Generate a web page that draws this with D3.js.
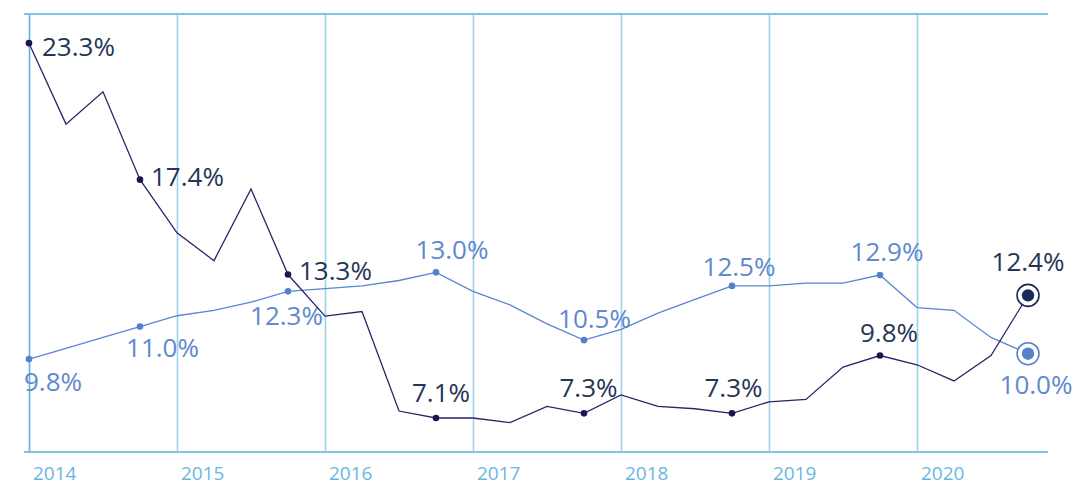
<!DOCTYPE html>
<html>
<head>
<meta charset="utf-8">
<script src="https://cdn.jsdelivr.net/npm/d3@7"></script>
<style>
  html, body { margin: 0; padding: 0; background: #ffffff; }
  svg { display: block; }
  text { font-family: "Open Sans", "Noto Sans", sans-serif; }
</style>
</head>
<body>
<svg id="chart" width="1090" height="490"></svg>
<script>
// ---- data ----
const years = [2014, 2015, 2016, 2017, 2018, 2019, 2020];
const quartersPerYear = 4;
// quarterly series (28 quarters starting at 2014)
const seriesDark = [23.3, 19.8, 21.2, 17.4, 15.1, 13.9, 17.0, 13.3,
                    11.5, 11.7, 7.4, 7.1, 7.1, 6.9, 7.6, 7.3,
                    8.1, 7.6, 7.5, 7.3, 7.8, 7.9, 9.3, 9.8,
                    9.4, 8.7, 9.8, 12.4];
const seriesLight = [9.8, 10.2, 10.6, 11.0, 11.4, 11.6, 11.9, 12.3,
                     12.4, 12.5, 12.7, 13.0, 12.3, 11.8, 11.1, 10.5,
                     10.9, 11.5, 12.0, 12.5, 12.5, 12.6, 12.6, 12.9,
                     11.7, 11.6, 10.6, 10.0];
const labeledDark = [0, 3, 7, 11, 15, 19, 23, 27];
const labeledLight = [0, 3, 7, 11, 15, 19, 23, 27];

// ---- layout / style (not data) ----
const plotLeft = 29, plotRight = 1028, plotTop = 14, plotBottom = 452, lineLeft = 24, lineRight = 1048;
const darkLabelPlace = [
  {dx: 13, dy: 3, a: "start"}, {dx: 11, dy: -3.5, a: "start"}, {dx: 11, dy: -3.5, a: "start"},
  {dx: 5, dy: -25, a: "middle"}, {dx: 4.5, dy: -26, a: "middle"}, {dx: 1.5, dy: -26, a: "middle"},
  {dx: 9, dy: -22.5, a: "middle"}, {dx: 0, dy: -34, a: "middle"}
];
const lightLabelPlace = [
  {dx: -5, dy: 23, a: "start"}, {dx: 22.5, dy: 21.5, a: "middle"}, {dx: -1.5, dy: 24, a: "middle"},
  {dx: 16, dy: -23, a: "middle"}, {dx: 10.5, dy: -22, a: "middle"}, {dx: 7, dy: -19, a: "middle"},
  {dx: 7, dy: -23, a: "middle"}, {dx: 8, dy: 31, a: "middle"}
];
const C = {
  grid: "#9dd2ea", frame: "#7ec4e4", yaxis: "#5fb2e0", year: "#6ab6df",
  dark: "#2b2568", darkDot: "#1a1553", darkEnd: "#1b2a57", darkText: "#253556",
  light: "#5a86d0", lightDot: "#5480cc", lightText: "#6089cf"
};

const svg = d3.select("#chart");
const x = d3.scaleLinear().domain([years[0], years[0] + (seriesDark.length - 1) / quartersPerYear]).range([plotLeft, plotRight]);
const yDark = d3.scaleLinear().domain([5.63, 24.56]).range([plotBottom, plotTop]);
const yLight = d3.scaleLinear().domain([6.374, 22.53]).range([plotBottom, plotTop]);
const t = i => years[0] + i / quartersPerYear;

// vertical year gridlines
const xAxis = d3.axisBottom(x).tickValues(years).tickSize(-(plotBottom - plotTop)).tickFormat(d3.format("d"));
const gx = svg.append("g").attr("transform", `translate(0,${plotBottom})`).call(xAxis);
gx.select(".domain").remove();
gx.selectAll(".tick line").attr("stroke", (d, i) => i === 0 ? C.yaxis : C.grid).attr("stroke-width", 1.6);
gx.selectAll(".tick text")
  .attr("text-anchor", "start").attr("x", 3.5).attr("y", 28).attr("dy", 0)
  .attr("fill", C.year).style("font-size", "19px").style("font-family", "'Open Sans', sans-serif");

// frame top and bottom
svg.append("line").attr("x1", lineLeft).attr("x2", lineRight).attr("y1", plotTop).attr("y2", plotTop)
  .attr("stroke", C.frame).attr("stroke-width", 1.8);
svg.append("line").attr("x1", lineLeft).attr("x2", lineRight).attr("y1", plotBottom).attr("y2", plotBottom)
  .attr("stroke", C.frame).attr("stroke-width", 1.8);

function drawSeries(vals, y, color, dotColor, labeled, place, textColor, endFill) {
  const line = d3.line().x((d, i) => x(t(i))).y(d => y(d));
  svg.append("path").datum(vals).attr("d", line).attr("fill", "none")
    .attr("stroke", color).attr("stroke-width", 1.3).attr("stroke-linejoin", "miter");
  const last = vals.length - 1;
  const pts = labeled.filter(i => i !== last);
  svg.selectAll(null).data(pts).enter().append("circle")
    .attr("cx", i => x(t(i))).attr("cy", i => y(vals[i])).attr("r", 3.3).attr("fill", dotColor);
  // end marker
  svg.append("circle").attr("cx", x(t(last))).attr("cy", y(vals[last])).attr("r", 11)
    .attr("fill", "#fff").attr("stroke", endFill).attr("stroke-width", 1.6);
  svg.append("circle").attr("cx", x(t(last))).attr("cy", y(vals[last])).attr("r", 6.2).attr("fill", endFill);
  svg.selectAll(null).data(labeled).enter().append("text")
    .attr("x", (i, k) => x(t(i)) + place[k].dx)
    .attr("y", (i, k) => y(vals[i]) + place[k].dy)
    .attr("dy", "0.36em")
    .attr("text-anchor", (i, k) => place[k].a)
    .attr("fill", textColor).style("font-size", "26px")
    .text(i => vals[i].toFixed(1) + "%");
}

drawSeries(seriesLight, yLight, C.light, C.lightDot, labeledLight, lightLabelPlace, C.lightText, C.lightDot);
drawSeries(seriesDark, yDark, C.dark, C.darkDot, labeledDark, darkLabelPlace, C.darkText, C.darkEnd);
</script>
</body>
</html>
